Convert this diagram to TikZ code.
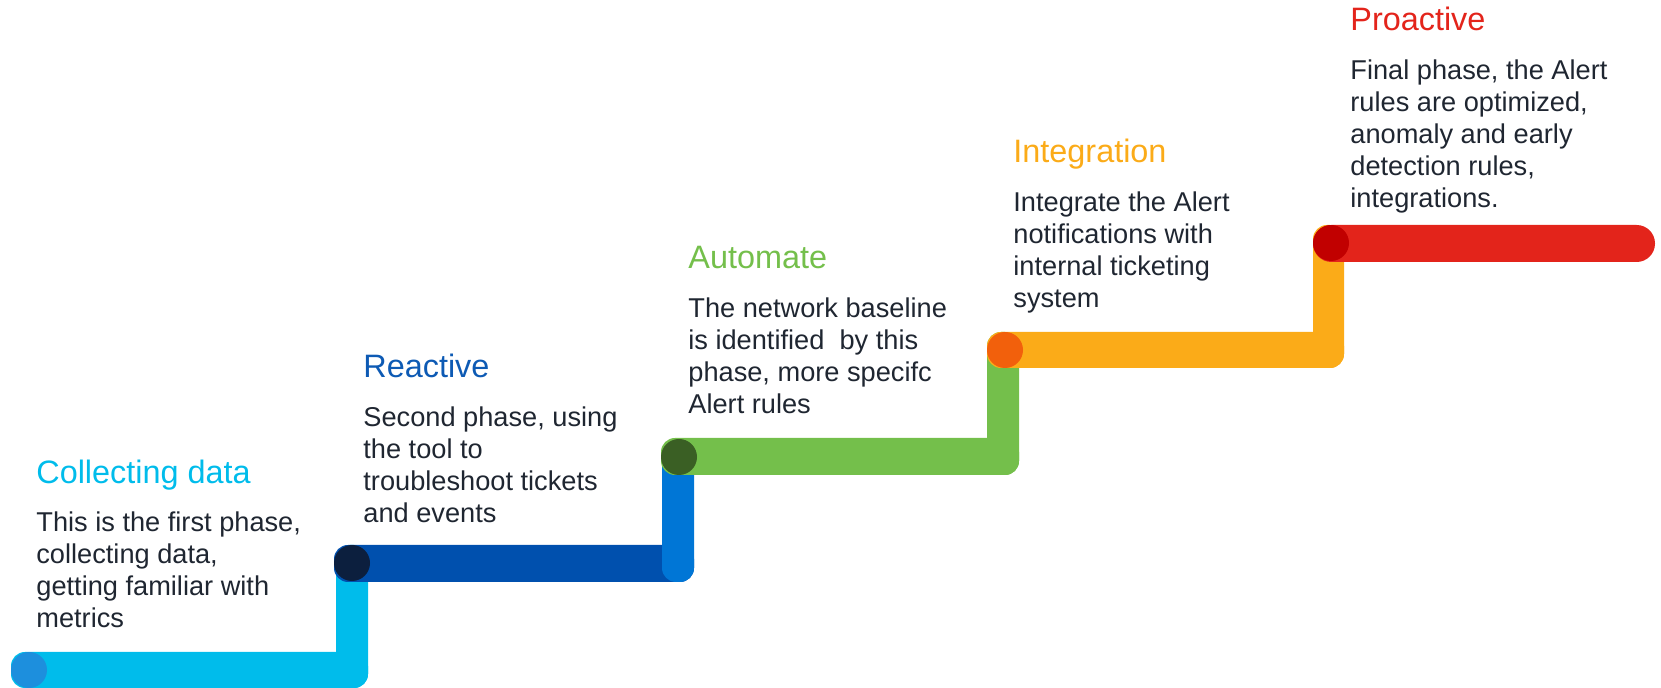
\documentclass[tikz,border=0pt]{standalone}
\usepackage{fontspec}
\setmainfont{Liberation Sans}
\definecolor{lbbar}{HTML}{00BCEB}
\definecolor{lbdot}{HTML}{1D8FDD}
\definecolor{dbbar}{HTML}{0050AE}
\definecolor{dbdot}{HTML}{0C1F3E}
\definecolor{bvert}{HTML}{0076D6}
\definecolor{grbar}{HTML}{74BF4B}
\definecolor{grdot}{HTML}{3A5F24}
\definecolor{orbar}{HTML}{FBAB18}
\definecolor{ordot}{HTML}{F2600C}
\definecolor{rdbar}{HTML}{E3241B}
\definecolor{rddot}{HTML}{C10000}
\definecolor{bodytext}{HTML}{1F2631}
\definecolor{ttlblue}{HTML}{0D5AB4}
\begin{document}
\begin{tikzpicture}[x=0.5pt,y=-0.5pt,
  seg/.style={rounded corners=7pt},
  dot/.style={circle,inner sep=0pt,minimum size=18pt},
  ttl/.style={anchor=base west,inner sep=0pt,font=\fontsize{16.2}{19}\selectfont},
  bodytxt/.style={anchor=base west,inner sep=0pt,text=bodytext,font=\fontsize{13.6}{16}\selectfont}]
\useasboundingbox (0,0) rectangle (1661,688);
% step 1
\fill[lbbar,seg] (11,652) rectangle (368,688);
\fill[lbbar,seg] (336,545) rectangle (368,688);
% step 2
\fill[dbbar,seg] (334,545) rectangle (694,582);
\fill[bvert,seg] (662,439) rectangle (694,582);
% step 3
\fill[grbar,seg] (661,438) rectangle (1019,475);
\fill[grbar,seg] (987,332) rectangle (1019,475);
% step 4
\fill[orbar,seg] (987,332) rectangle (1344,368);
\fill[orbar,seg] (1313,225) rectangle (1344,368);
% step 5
\fill[rdbar,rounded corners=9.2pt] (1313,225) rectangle (1655,262);
% dots
\node[dot,fill=lbdot] (d1) at (29,670) {};
\node[dot,fill=dbdot] (d2) at (352,563) {};
\node[dot,fill=grdot] (d3) at (679,457) {};
\node[dot,fill=ordot] (d4) at (1005,350) {};
\node[dot,fill=rddot] (d5) at (1331,243) {};
% texts
\node[ttl,text=lbbar] (t1) at (36,484) {Collecting data};
\node[bodytxt] (b1) at (36,532) {\begin{tabular}[t]{@{}l@{}}This is the first phase,\\collecting data,\\getting familiar with\\metrics\end{tabular}};
\node[ttl,text=ttlblue] (t2) at (363,378) {Reactive};
\node[bodytxt] (b2) at (363,427) {\begin{tabular}[t]{@{}l@{}}Second phase, using\\the tool to\\troubleshoot tickets\\and events\end{tabular}};
\node[ttl,text=grbar] (t3) at (688,269) {Automate};
\node[bodytxt] (b3) at (688,318) {\begin{tabular}[t]{@{}l@{}}The network baseline\\is identified\ \ by this\\phase, more specifc\\Alert rules\end{tabular}};
\node[ttl,text=orbar] (t4) at (1013,163) {Integration};
\node[bodytxt] (b4) at (1013,212) {\begin{tabular}[t]{@{}l@{}}Integrate the Alert\\notifications with\\internal ticketing\\system\end{tabular}};
\node[ttl,text=rdbar] (t5) at (1350,31) {Proactive};
\node[bodytxt] (b5) at (1350,80) {\begin{tabular}[t]{@{}l@{}}Final phase, the Alert\\rules are optimized,\\anomaly and early\\detection rules,\\integrations.\end{tabular}};
\end{tikzpicture}
\end{document}
